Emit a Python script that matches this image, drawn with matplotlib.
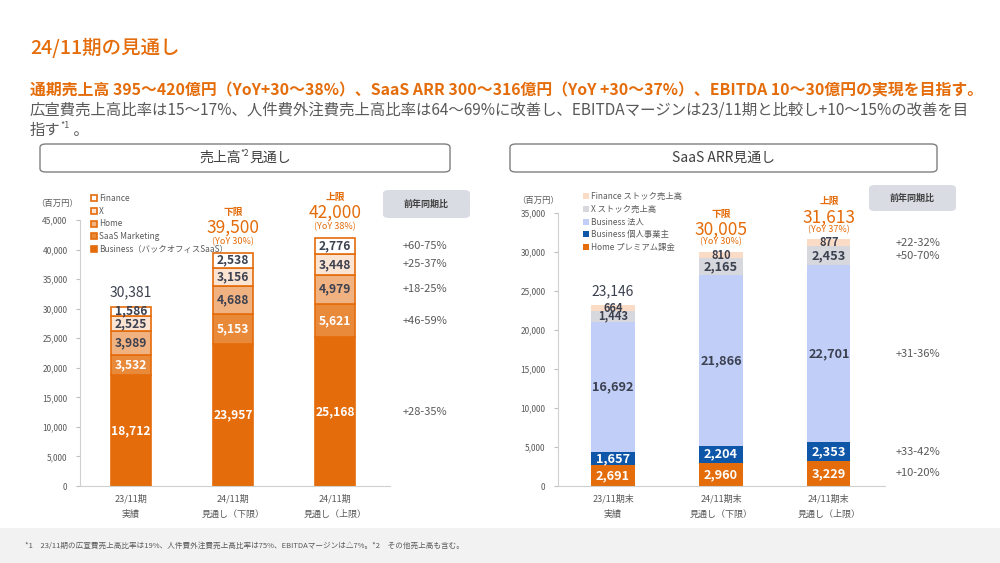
import matplotlib
matplotlib.use("Agg")
import matplotlib.pyplot as plt
from matplotlib.patches import FancyBboxPatch, Rectangle
from matplotlib.transforms import blended_transform_factory
import numpy as np

plt.rcParams['font.family'] = ['Noto Sans CJK JP', 'DejaVu Sans']

# ---------------- data ----------------
sales_categories = ["23/11期\n実績", "24/11期\n見通し（下限）", "24/11期\n見通し（上限）"]
sales_series = ["Business（バックオフィスSaaS）", "SaaS Marketing", "Home", "X", "Finance"]
sales_business = [18712, 23957, 25168]
sales_saas_mkt = [3532, 5153, 5621]
sales_home = [3989, 4688, 4979]
sales_x = [2525, 3156, 3448]
sales_finance = [1586, 2538, 2776]
sales_totals = [30381, 39500, 42000]
sales_bounds = ["", "下限", "上限"]
sales_yoy = ["", "(YoY 30%)", "(YoY 38%)"]
sales_segment_yoy = ["+28-35%", "+46-59%", "+18-25%", "+25-37%", "+60-75%"]
sales_yticks = [0, 5000, 10000, 15000, 20000, 25000, 30000, 35000, 40000, 45000]

arr_categories = ["23/11期末\n実績", "24/11期末\n見通し（下限）", "24/11期末\n見通し（上限）"]
arr_series = ["Home プレミアム課金", "Business 個人事業主", "Business 法人", "X ストック売上高", "Finance ストック売上高"]
arr_home = [2691, 2960, 3229]
arr_biz_individual = [1657, 2204, 2353]
arr_biz_corporate = [16692, 21866, 22701]
arr_x = [1443, 2165, 2453]
arr_finance = [664, 810, 877]
arr_totals = [23146, 30005, 31613]
arr_bounds = ["", "下限", "上限"]
arr_yoy = ["", "(YoY 30%)", "(YoY 37%)"]
arr_segment_yoy = ["+10-20%", "+33-42%", "+31-36%", "+50-70%", "+22-32%"]
arr_yticks = [0, 5000, 10000, 15000, 20000, 25000, 30000, 35000]

# ---------------- style ----------------
ORANGE = "#E46C0A"
DARK = "#3C4150"
GRAY = "#595959"
W, H = 1000, 563


def fx(px):
    return px / W


def fy(py):
    return 1 - py / H


fig = plt.figure(figsize=(10, 5.63), dpi=100)
fig.patch.set_facecolor("white")

# footer band
fig.add_artist(Rectangle((0, 0), 1, 35 / H, transform=fig.transFigure,
                         facecolor="#F2F2F2", edgecolor="none", zorder=0))

# header texts
fig.text(fx(30), fy(48), "24/11期の見通し", color=ORANGE, fontsize=14,
         va="center", ha="left", weight="medium")
fig.text(fx(30), fy(90),
         "通期売上高 395～420億円（YoY+30～38%）、SaaS ARR 300～316億円（YoY +30～37%）、EBITDA 10～30億円の実現を目指す。",
         color=ORANGE, fontsize=11.4, weight="bold", va="center", ha="left")
fig.text(fx(30), fy(110),
         "広宣費売上高比率は15～17%、人件費外注費売上高比率は64～69%に改善し、EBITDAマージンは23/11期と比較し+10～15%の改善を目",
         color=GRAY, fontsize=11.1, va="center", ha="left")

renderer = fig.canvas.get_renderer()


def seq_text(x0, yc, parts):
    """parts: list of (text, fontsize, dy_px, kwargs)"""
    x = x0
    for s, fs, dy, kw in parts:
        t = fig.text(x, fy(yc + dy), s, fontsize=fs, va="center", ha="left", **kw)
        bb = t.get_window_extent(renderer)
        x = bb.x1 / W
    return x


seq_text(fx(30), 130, [("指す", 11.1, 0, dict(color=GRAY)),
                       ("*1", 6.5, -4, dict(color=GRAY)),
                       (" 。", 11.1, 0, dict(color=GRAY))])

# section title boxes
for (x0, x1) in [(40, 450), (510, 937)]:
    fig.add_artist(FancyBboxPatch((fx(x0), fy(172)), fx(x1 - x0), 28 / H,
                                  boxstyle="round,pad=0,rounding_size=0.006",
                                  transform=fig.transFigure, facecolor="white",
                                  edgecolor="#7F7F7F", linewidth=1.0, zorder=1))

# left title with superscript: measure width first
tmp = [("売上高", 10, 0, dict(color="#404040")), ("*2", 6, -4, dict(color="#404040")),
       ("見通し", 10, 0, dict(color="#404040"))]
tw = 0
for s, fs, dy, kw in tmp:
    t = fig.text(0, 0, s, fontsize=fs)
    tw += t.get_window_extent(renderer).width
    t.remove()
seq_text(fx(245) - tw / 2 / W, 158, tmp)
fig.text(fx(723), fy(158), "SaaS ARR見通し", fontsize=10, color="#404040",
         ha="center", va="center")

# footer text
fig.text(fx(25), fy(546),
         "*1　23/11期の広宣費売上高比率は19%、人件費外注費売上高比率は75%、EBITDAマージンは△7%。*2　その他売上高も含む。",
         fontsize=5.5, color=GRAY, ha="left", va="center")


def style_axes(ax, yticks, ymax):
    ax.set_ylim(0, ymax)
    ax.set_yticks(yticks)
    ax.set_yticklabels([f"{v:,}" for v in yticks], fontsize=6, color=GRAY)
    for s in ["top", "right"]:
        ax.spines[s].set_visible(False)
    ax.spines["left"].set_color("#D0D0D0")
    ax.spines["bottom"].set_color("#D0D0D0")
    ax.tick_params(axis="y", length=3, color="#BFBFBF", pad=6)
    ax.tick_params(axis="x", length=0, pad=6, labelsize=6.5, labelcolor=GRAY)
    ax.set_facecolor("none")


def stacked(ax, series, colors, edgecolors, lw, textcolors, names, width, fs, small_fs=None):
    x = np.arange(len(series[0]))
    bottoms = np.zeros(len(x))
    handles = []
    centers_last = []
    for vals, c, ec, tc, nm in zip(series, colors, edgecolors, textcolors, names):
        vals = np.array(vals, dtype=float)
        b = ax.bar(x, vals, width, bottom=bottoms, color=c, edgecolor=ec,
                   linewidth=lw, label=nm, zorder=2)
        handles.append(b)
        for xi, v, bt in zip(x, vals, bottoms):
            f = fs
            if small_fs is not None and v < 1500:
                f = small_fs
            ax.text(xi, bt + v / 2, f"{int(v):,}", ha="center", va="center",
                    color=tc, fontsize=f, weight="bold", zorder=3)
        centers_last.append(bottoms[-1] + vals[-1] / 2)
        bottoms = bottoms + vals
    return handles, centers_last


def totals(ax, tot, bounds, yoys, first_color, offs):
    for i, (t, bd, yy) in enumerate(zip(tot, bounds, yoys)):
        if bd == "":
            ax.annotate(f"{t:,}", xy=(i, t), xytext=(0, offs[0]), textcoords="offset pixels",
                        ha="center", va="center", fontsize=10, color=first_color,
                        annotation_clip=False)
        else:
            ax.annotate(yy, xy=(i, t), xytext=(0, offs[1]), textcoords="offset pixels",
                        ha="center", va="center", fontsize=6.5, color=ORANGE,
                        annotation_clip=False)
            ax.annotate(f"{t:,}", xy=(i, t), xytext=(0, offs[2]), textcoords="offset pixels",
                        ha="center", va="center", fontsize=12.5, color=ORANGE,
                        annotation_clip=False)
            ax.annotate(bd, xy=(i, t), xytext=(0, offs[3]), textcoords="offset pixels",
                        ha="center", va="center", fontsize=7, color=ORANGE, weight="bold",
                        annotation_clip=False)


def yoy_box(x0, x1, y0, y1):
    fig.add_artist(FancyBboxPatch((fx(x0), fy(y1)), fx(x1 - x0), (y1 - y0) / H,
                                  boxstyle="round,pad=0,rounding_size=0.006",
                                  transform=fig.transFigure, facecolor="#D9DCE3",
                                  edgecolor="none", zorder=1))
    fig.text(fx((x0 + x1) / 2), fy((y0 + y1) / 2), "前年同期比", fontsize=6.5,
             weight="bold", color="#404040", ha="center", va="center")


# ---------------- left chart ----------------
axL = fig.add_axes([fx(80), fy(486), fx(310), 266 / H])
style_axes(axL, sales_yticks, 45000)
axL.set_xlim(-0.5, 2.54)
axL.set_xticks(range(3))
axL.set_xticklabels(sales_categories, linespacing=1.9)
sales_series_vals = [sales_business, sales_saas_mkt, sales_home, sales_x, sales_finance]
hL, cL = stacked(axL, sales_series_vals,
                 [ORANGE, "#E9893A", "#F1B282", "#FCE4D3", "white"],
                 [ORANGE] * 5, 1.2,
                 ["white", "white", DARK, DARK, DARK],
                 sales_series, 0.39, 8.7)
totals(axL, sales_totals, sales_bounds, sales_yoy, DARK, (14, 11, 25, 41))
trL = blended_transform_factory(fig.transFigure, axL.transData)
for lab, yc in zip(sales_segment_yoy, cL):
    axL.text(fx(425), yc, lab, transform=trL, ha="center", va="center",
             fontsize=8, color=GRAY, clip_on=False)
legL = axL.legend(handles=hL[::-1], labels=sales_series[::-1], loc="upper left",
                  bbox_to_anchor=(fx(91), fy(194)), bbox_transform=fig.transFigure,
                  fontsize=6, frameon=False, handlelength=0.7, handleheight=0.7,
                  handletextpad=0.3, labelspacing=0.45, borderpad=0, borderaxespad=0)
for t in legL.get_texts():
    t.set_color(GRAY)
fig.text(fx(57), fy(203), "（百万円）", fontsize=6, color=GRAY, ha="center", va="center")
yoy_box(383, 470, 190, 218)

# ---------------- right chart ----------------
axR = fig.add_axes([fx(558), fy(486), fx(327), 273 / H])
style_axes(axR, arr_yticks, 35000)
axR.set_xlim(-0.51, 2.52)
axR.set_xticks(range(3))
axR.set_xticklabels(arr_categories, linespacing=1.9)
arr_series_vals = [arr_home, arr_biz_individual, arr_biz_corporate, arr_x, arr_finance]
hR, cR = stacked(axR, arr_series_vals,
                 [ORANGE, "#0E56A8", "#C1CFF8", "#D6D8DE", "#FADBC5"],
                 ["none"] * 5, 0,
                 ["white", "white", DARK, DARK, DARK],
                 arr_series, 0.40, 9.2, small_fs=8)
totals(axR, arr_totals, arr_bounds, arr_yoy, DARK, (14, 10, 22, 38))
trR = blended_transform_factory(fig.transFigure, axR.transData)
for lab, yc in zip(arr_segment_yoy, cR):
    axR.text(fx(918), yc, lab, transform=trR, ha="center", va="center",
             fontsize=8, color=GRAY, clip_on=False)
legR = axR.legend(handles=hR[::-1], labels=arr_series[::-1], loc="upper left",
                  bbox_to_anchor=(fx(583), fy(192)), bbox_transform=fig.transFigure,
                  fontsize=6, frameon=False, handlelength=0.7, handleheight=0.7,
                  handletextpad=0.3, labelspacing=0.45, borderpad=0, borderaxespad=0)
for t in legR.get_texts():
    t.set_color(GRAY)
fig.text(fx(538), fy(200), "（百万円）", fontsize=6, color=GRAY, ha="center", va="center")
yoy_box(869, 956, 185, 211)

fig.savefig("out.png", dpi=100, facecolor="white")
